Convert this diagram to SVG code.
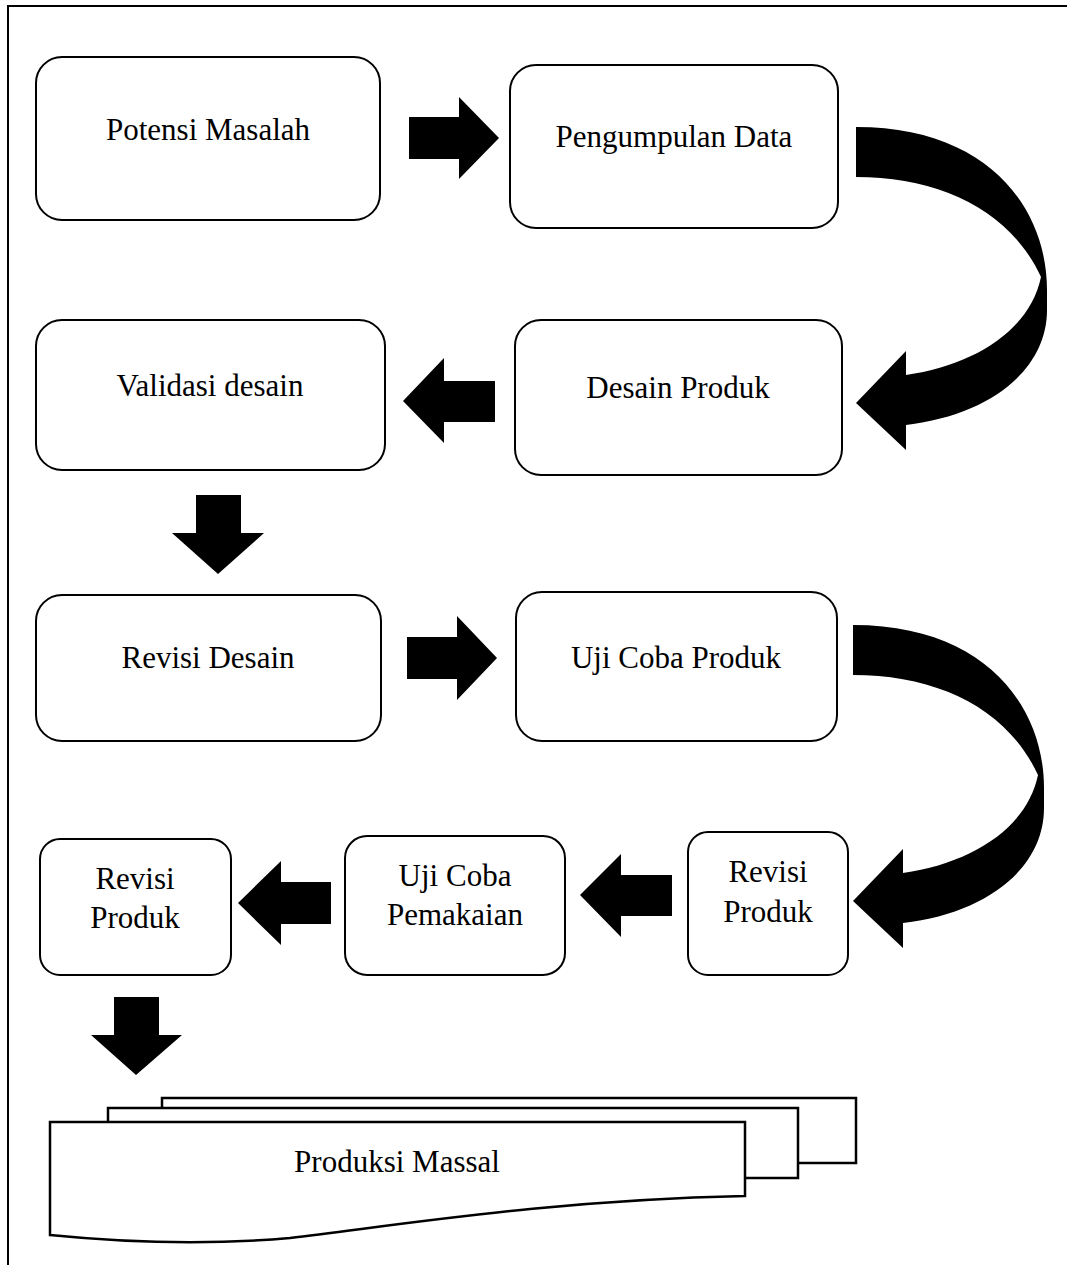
<svg xmlns="http://www.w3.org/2000/svg" width="1067" height="1265" viewBox="0 0 1067 1265">
<style>
.box{fill:#fff;stroke:#000;stroke-width:2}
.doc{fill:#fff;stroke:#000;stroke-width:2.5}
.t{font-family:"Liberation Serif","Times New Roman",serif;font-size:31px;fill:#000;text-anchor:middle}
.ar{fill:#000}
</style>
<rect x="8" y="6" width="1080" height="1280" fill="#fff" stroke="#000" stroke-width="2"/>
<g id="connectors">
<path class="ar" d="M409,117 H459 V97 L499,138 L459,179 V159 H409 Z"/>
<path class="ar" d="M856,127 C990,127 1047,210 1047,290 L1047,310 C1047,370 990,415 906,425 L906,450 L856,403 L906,351 L906,375 C975,365 1030,330 1041,277 C1010,210 940,177 856,177 Z"/>
<path class="ar" d="M495,381 H444 V358 L403,401 L444,443 V422 H495 Z"/>
<path class="ar" d="M196,495 H241 V533 H264 L218,574 L172,533 H196 Z"/>
<path class="ar" d="M407,637 H457 V616 L497,658 L457,700 V679 H407 Z"/>
<path class="ar" transform="translate(-3,498)" d="M856,127 C990,127 1047,210 1047,290 L1047,310 C1047,370 990,415 906,425 L906,450 L856,403 L906,351 L906,375 C975,365 1030,330 1041,277 C1010,210 940,177 856,177 Z"/>
<path class="ar" d="M672,875 H621 V854 L580,895 L621,937 V916 H672 Z"/>
<path class="ar" d="M331,882 H281 V861 L238,903 L281,945 V924 H331 Z"/>
<path class="ar" d="M114,997 H159 V1035 H182 L136,1075 L91,1035 H114 Z"/>
</g>
<g id="n1"><rect class="box" x="36" y="57" width="344" height="163" rx="26"/><text class="t" x="208" y="140">Potensi Masalah</text></g>
<g id="n2"><rect class="box" x="510" y="65" width="328" height="163" rx="26"/><text class="t" x="674" y="147">Pengumpulan Data</text></g>
<g id="n3"><rect class="box" x="36" y="320" width="349" height="150" rx="26"/><text class="t" x="210" y="396">Validasi desain</text></g>
<g id="n4"><rect class="box" x="515" y="320" width="327" height="155" rx="26"/><text class="t" x="678" y="398">Desain Produk</text></g>
<g id="n5"><rect class="box" x="36" y="595" width="345" height="146" rx="26"/><text class="t" x="208" y="668">Revisi Desain</text></g>
<g id="n6"><rect class="box" x="516" y="592" width="321" height="149" rx="26"/><text class="t" x="676" y="668">Uji Coba Produk</text></g>
<g id="n7"><rect class="box" x="40" y="839" width="191" height="136" rx="20"/><text class="t" x="135" y="889">Revisi</text><text class="t" x="135" y="928">Produk</text></g>
<g id="n8"><rect class="box" x="345" y="836" width="220" height="139" rx="22"/><text class="t" x="455" y="886">Uji Coba</text><text class="t" x="455" y="925">Pemakaian</text></g>
<g id="n9"><rect class="box" x="688" y="832" width="160" height="143" rx="20"/><text class="t" x="768" y="882">Revisi</text><text class="t" x="768" y="922">Produk</text></g>
<g id="n10">
<path class="doc" d="M162,1108 V1098 H856 V1163 H798"/>
<path class="doc" d="M108,1122 V1108 H798 V1178 H745"/>
<path class="doc" d="M50,1122 H745 V1196 C550,1200 400,1225 290,1238 C200,1246 120,1242 50,1235 Z"/>
<text class="t" x="397" y="1172">Produksi Massal</text>
</g>
</svg>
